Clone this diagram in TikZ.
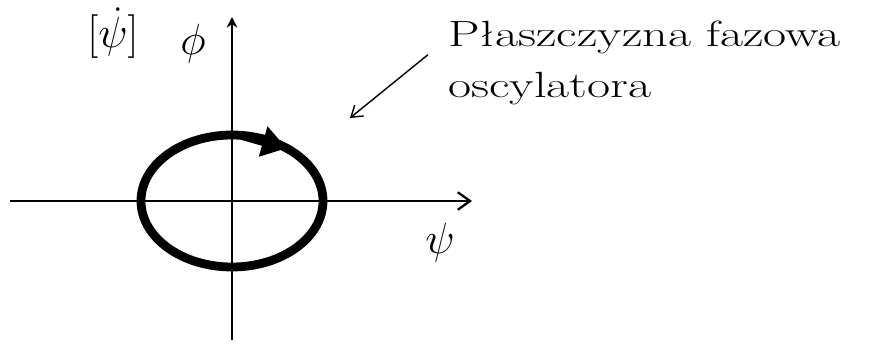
\documentclass[tikz,border=0pt]{standalone}
\usepackage{fontspec}
\usetikzlibrary{arrows.meta,positioning}
\definecolor{ink}{HTML}{000000}

\begin{document}
\begin{tikzpicture}[x=0.02cm,y=0.02cm]
  \useasboundingbox (0,0) rectangle (887,343);

  % Axes of the phase plane
  \coordinate (O) at (232,142);
  \draw[ink,line width=1.3pt,-{Straight Barb[length=7pt,width=10pt]}] (10,142) -- (472,142);
  \draw[ink,line width=1.3pt,-{Stealth[length=6pt,width=6pt]}] (232,3) -- (232,326);

  % Axis labels
  \node[font=\Huge,ink,inner sep=1pt] (psi) at (440,100) {$\psi$};
  \node[font=\Huge,ink,inner sep=1pt] (psidot) at (113,310) {$[\dot{\psi}]$};
  \node[font=\Huge,ink,inner sep=1pt] (phi) at (193,299) {$\phi$};

  % The orbit
  \draw[ink,line width=5pt] (O) ellipse [x radius=91, y radius=66];
  \draw[ink,line width=5pt,-{Triangle[length=14pt,width=17pt]}]
    ([shift={(84:91 and 66)}]O) -- ([shift={(53:91 and 66)}]O);

  % Caption with pointer
  \node[font=\huge,ink,anchor=north west,inner sep=0pt] (title) at (448,322) {\scalebox{1.38}[1]{Płaszczyzna fazowa}};
  \node[font=\huge,ink,below=10pt of title.south west,anchor=north west,inner sep=0pt] (subtitle) {\scalebox{1.38}[1]{oscylatora}};
  \coordinate (plane) at (350,225);
  \draw[ink,line width=0.8pt,-{Straight Barb[length=6pt,width=8pt]}] ([xshift=-0.4cm]title.south west) -- (plane);
\end{tikzpicture}
\end{document}
